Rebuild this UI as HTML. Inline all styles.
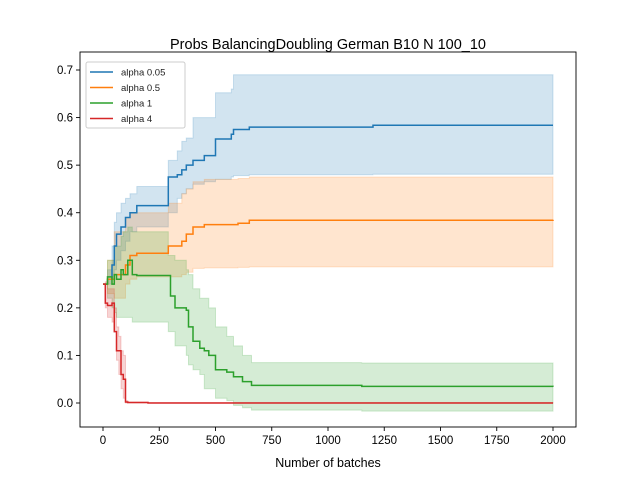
<!DOCTYPE html>
<html><head><meta charset="utf-8"><style>
body{margin:0;background:#fff}
svg{display:block;font-family:"Liberation Sans","DejaVu Sans",sans-serif}
</style></head><body>
<svg id="chart" width="640" height="480">
<rect width="640" height="480" fill="#fff"/>
<text x="328" y="49" text-anchor="middle" font-size="14.5">Probs BalancingDoubling German B10 N 100_10</text>
<g id="bands"></g><g id="lines"></g><g id="axes"></g>
<text x="328" y="467" text-anchor="middle" font-size="12.5">Number of batches</text>
<g>
<rect x="86" y="62" width="99" height="66" rx="2" fill="#fff" fill-opacity="0.8" stroke="#ccc"/>
<g id="legend"></g>
</g>
</svg>
<script>
const xTicks=[0,250,500,750,1000,1250,1500,1750,2000];
const yTicks=[0.0,0.1,0.2,0.3,0.4,0.5,0.6,0.7];
const seriesNames=["alpha 0.05","alpha 0.5","alpha 1","alpha 4"];
const colors=["#1f77b4","#ff7f0e","#2ca02c","#d62728"];
// alpha 0.05
const bX=[0,20,40,50,60,80,100,120,150,290,330,350,370,400,450,500,570,580,650,1200,2000];
const bMean=[0.25,0.26,0.29,0.33,0.355,0.37,0.39,0.40,0.415,0.475,0.48,0.49,0.50,0.51,0.52,0.555,0.565,0.575,0.58,0.584,0.584];
const bLo=[0.25,0.25,0.26,0.28,0.30,0.32,0.34,0.36,0.37,0.40,0.43,0.44,0.45,0.46,0.465,0.47,0.475,0.478,0.48,0.481,0.481];
const bHi=[0.25,0.28,0.33,0.38,0.40,0.42,0.43,0.44,0.455,0.51,0.53,0.55,0.557,0.60,0.60,0.652,0.66,0.69,0.69,0.69,0.69];
// alpha 0.5
const oX=[0,20,50,100,120,150,290,350,370,400,450,600,650,2000];
const oMean=[0.25,0.26,0.27,0.29,0.31,0.315,0.33,0.34,0.355,0.37,0.375,0.378,0.384,0.385];
const oLo=[0.25,0.23,0.22,0.25,0.26,0.265,0.265,0.27,0.275,0.283,0.284,0.285,0.286,0.286];
const oHi=[0.25,0.30,0.36,0.39,0.40,0.40,0.42,0.44,0.45,0.465,0.47,0.472,0.475,0.475];
// alpha 1
const gX=[0,20,40,50,60,80,90,110,130,150,290,300,320,370,380,400,430,450,470,500,550,580,620,660,1150,2000];
const gMean=[0.25,0.265,0.25,0.27,0.26,0.28,0.27,0.30,0.27,0.268,0.268,0.225,0.20,0.195,0.16,0.13,0.115,0.11,0.10,0.07,0.065,0.055,0.045,0.037,0.035,0.034];
const gLo=[0.25,0.22,0.20,0.19,0.18,0.18,0.18,0.18,0.17,0.17,0.15,0.15,0.12,0.10,0.08,0.07,0.06,0.03,0.03,0.01,0.005,-0.005,-0.01,-0.015,-0.017,-0.017];
const gHi=[0.25,0.30,0.30,0.33,0.33,0.35,0.36,0.37,0.36,0.36,0.31,0.31,0.30,0.28,0.27,0.24,0.22,0.22,0.20,0.16,0.14,0.12,0.10,0.085,0.084,0.084];
// alpha 4
const rX=[0,10,20,40,50,60,70,80,90,100,110,200,2000];
const rMean=[0.25,0.21,0.205,0.21,0.15,0.11,0.11,0.06,0.05,0.002,0.001,0.0,0.0];
const rLo=[0.25,0.20,0.18,0.17,0.15,0.09,0.06,0.03,0.01,0.0,0.0,0.0,0.0];
const rHi=[0.25,0.255,0.24,0.24,0.20,0.16,0.14,0.11,0.10,0.005,0.002,0.001,0.001];

const X0=80,X1=576,Y0=52,Y1=427;
const sx=v=>103+v*(450/2000);
const sy=v=>403-v*(333/0.7);
const NS="http://www.w3.org/2000/svg";
function mk(tag,attrs,parent){const e=document.createElementNS(NS,tag);for(const k in attrs)e.setAttribute(k,attrs[k]);parent.appendChild(e);return e;}
function stepPts(xs,ys){const p=[];for(let i=0;i<xs.length;i++){if(i>0)p.push([sx(xs[i]),sy(ys[i-1])]);p.push([sx(xs[i]),sy(ys[i])]);}return p;}
const all=[[bX,bMean,bLo,bHi],[oX,oMean,oLo,oHi],[gX,gMean,gLo,gHi],[rX,rMean,rLo,rHi]];
const bandG=document.getElementById('bands'),lineG=document.getElementById('lines');
all.forEach((s,i)=>{
  const hi=stepPts(s[0],s[3]),lo=stepPts(s[0],s[2]).reverse();
  const d='M'+hi.concat(lo).map(p=>p[0].toFixed(1)+','+p[1].toFixed(1)).join('L')+'Z';
  const b=mk('path',{d:d,fill:colors[i],'fill-opacity':0.2,stroke:colors[i],'stroke-opacity':0.2},bandG);
  
  
});
all.forEach((s,i)=>{
  const m=stepPts(s[0],s[1]);
  const l=mk('path',{d:'M'+m.map(p=>p[0].toFixed(1)+','+p[1].toFixed(1)).join('L'),fill:'none',stroke:colors[i],'stroke-width':1.5},lineG);
  
  
});
const ax=document.getElementById('axes');
const fr=mk('rect',{x:X0,y:Y0,width:X1-X0,height:Y1-Y0,fill:'none',stroke:'#000','stroke-width':0.9},ax);


xTicks.forEach(t=>{
  mk('line',{x1:sx(t),x2:sx(t),y1:Y1,y2:Y1+4,stroke:'#000','stroke-width':0.9},ax);
  const tx=mk('text',{x:sx(t),y:Y1+17,'text-anchor':'middle','font-size':11.5},ax);tx.textContent=t;
  
  
});
yTicks.forEach(t=>{
  mk('line',{x1:X0-4,x2:X0,y1:sy(t),y2:sy(t),stroke:'#000','stroke-width':0.9},ax);
  const tx=mk('text',{x:X0-7,y:sy(t)+4,'text-anchor':'end','font-size':11.5},ax);tx.textContent=t.toFixed(1);
  
  
});
const lg=document.getElementById('legend');
seriesNames.forEach((n,i)=>{
  const y=72+i*15.5;
  mk('line',{x1:90,x2:113,y1:y,y2:y,stroke:colors[i],'stroke-width':1.5},lg);
  const t=mk('text',{x:121,y:y+3.5,'font-size':9.5,fill:'#222'},lg);t.textContent=n;
  
  
});
</script>
</body></html>
